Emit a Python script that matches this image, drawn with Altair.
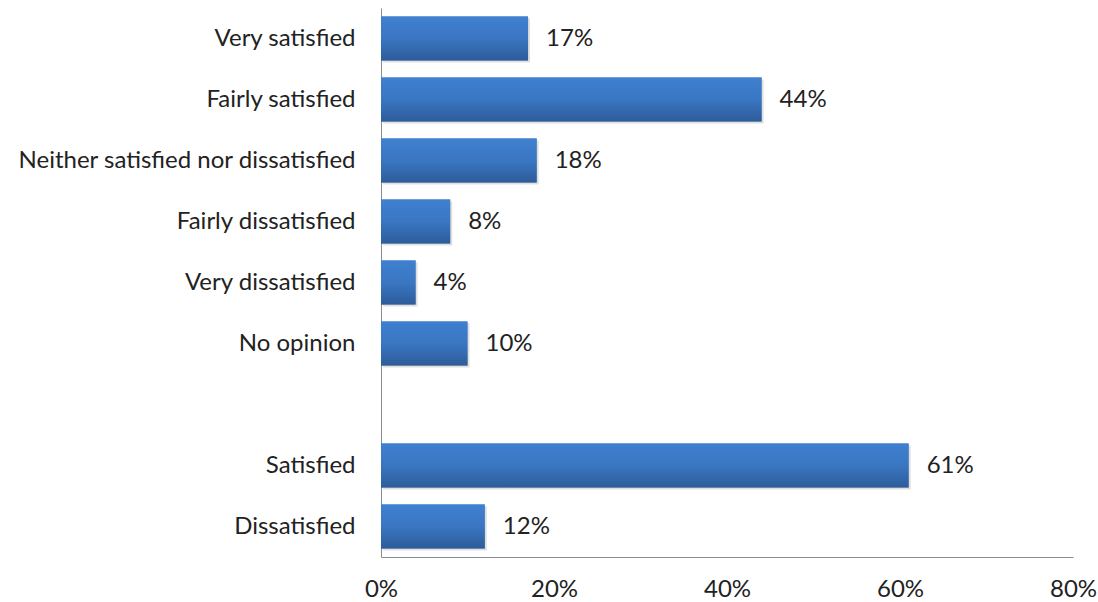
import altair as alt
import pandas as pd

categories = ["Very satisfied", "Fairly satisfied", "Neither satisfied nor dissatisfied",
              "Fairly dissatisfied", "Very dissatisfied", "No opinion", " ",
              "Satisfied", "Dissatisfied"]
bar_categories = ["Very satisfied", "Fairly satisfied", "Neither satisfied nor dissatisfied",
                  "Fairly dissatisfied", "Very dissatisfied", "No opinion",
                  "Satisfied", "Dissatisfied"]
values = [0.17, 0.44, 0.18, 0.08, 0.04, 0.10, 0.61, 0.12]
x_ticks = [0, 0.2, 0.4, 0.6, 0.8]

df = pd.DataFrame({"category": bar_categories, "value": values})

FONT = "Lato"
FS = 24

y_enc = alt.Y("category:N", scale=alt.Scale(domain=categories, paddingInner=0.28, paddingOuter=0.14),
              axis=alt.Axis(title=None, ticks=False, labelPadding=26, labelFontSize=FS,
                            labelFont=FONT, labelColor="#222222", domainColor="#8c8c8c",
                            labelLimit=400))
x_enc = alt.X("value:Q", scale=alt.Scale(domain=[0, 0.8], nice=False),
              axis=alt.Axis(title=None, values=x_ticks, format=".0%", grid=False, ticks=False,
                            labelPadding=20, labelFontSize=FS, labelFont=FONT, labelFlush=False,
                            labelColor="#222222", domainColor="#8c8c8c"))

grad = alt.Gradient(gradient="linear", x1=0, y1=0, x2=0, y2=1,
                    stops=[alt.GradientStop(color="#3f80d0", offset=0),
                           alt.GradientStop(color="#3a76c2", offset=0.5),
                           alt.GradientStop(color="#2d5c9a", offset=1)])

shadow = alt.Chart(df).mark_bar(color="#b8b8b8", opacity=0.45, xOffset=2, yOffset=2).encode(
    x=alt.X("value:Q"), y=alt.Y("category:N"))
bars = alt.Chart(df).mark_bar(color=grad).encode(x=x_enc, y=y_enc)
labels = alt.Chart(df).mark_text(align="left", dx=18, fontSize=FS, font=FONT, color="#222222").encode(
    x=alt.X("value:Q"), y=alt.Y("category:N"), text=alt.Text("value:Q", format=".0%"))

chart = (bars + shadow + bars + labels).properties(
    width=692, height=549,
    background="white",
    autosize=alt.AutoSizeParams(type="none"),
    padding={"left": 381, "top": 8, "right": 25, "bottom": 45},
).configure_view(stroke=None)

chart.save("out.html", embed_options={"renderer": "svg", "actions": False})
